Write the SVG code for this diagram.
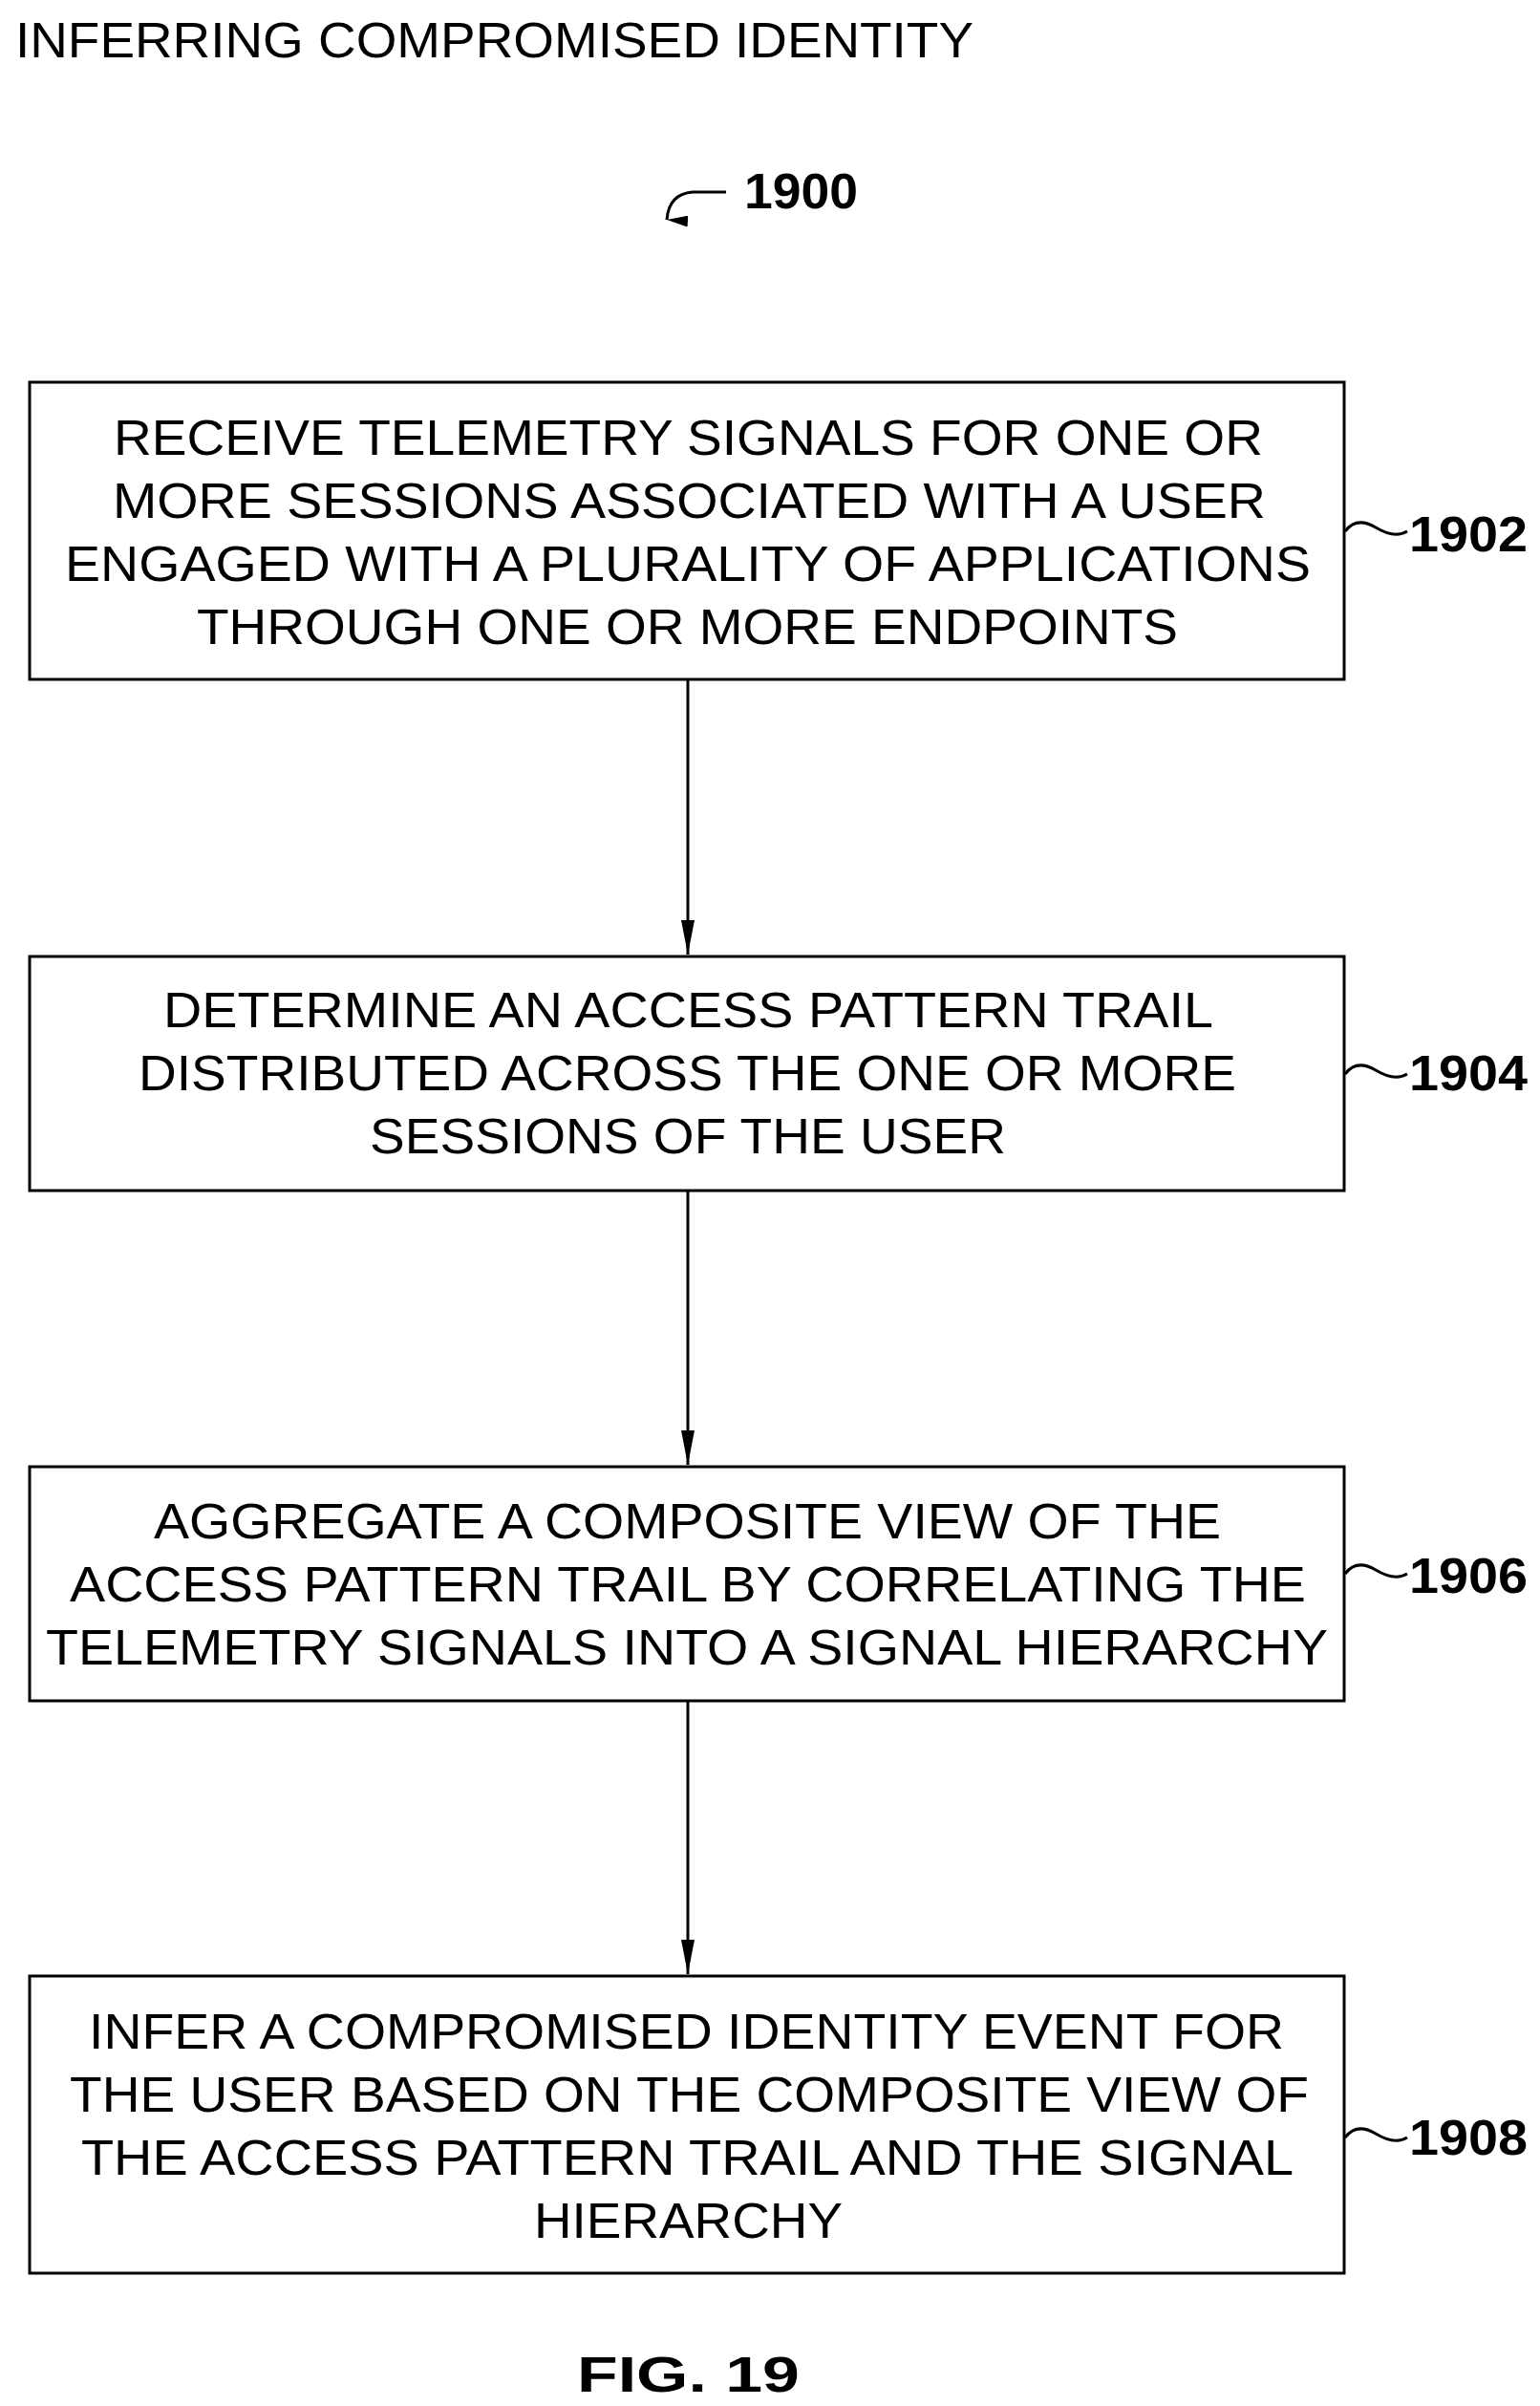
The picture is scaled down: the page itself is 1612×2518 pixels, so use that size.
<svg xmlns="http://www.w3.org/2000/svg" width="1612" height="2518" viewBox="0 0 1612 2518">
<defs>
<style>
.t{font-family:"Liberation Sans",Arial,sans-serif;font-size:52px;fill:#000}
.c{text-anchor:middle}
.b{font-weight:bold}
.box{fill:#fff;stroke:#000;stroke-width:3}
.ln{fill:none;stroke:#000;stroke-width:3}
</style>
<marker id="ah" markerWidth="12" markerHeight="22" refX="6" refY="22" orient="auto-start-reverse" markerUnits="userSpaceOnUse" viewBox="0 0 12 22"><path d="M0,0 L12,0 L6,22 Z" fill="#000" transform="rotate(0)"/></marker>
<marker id="ad" markerWidth="14" markerHeight="36" refX="7" refY="36" orient="0" markerUnits="userSpaceOnUse" viewBox="0 0 14 36"><path d="M0,0 L14,0 L7,36 Z" fill="#000"/></marker>
</defs>
<rect width="1612" height="2518" fill="#fff"/>
<text class="t" x="16" y="60" textLength="1003" lengthAdjust="spacingAndGlyphs">INFERRING COMPROMISED IDENTITY</text>
<g id="ref1900">
<text class="t b" x="779" y="218" textLength="119" lengthAdjust="spacingAndGlyphs" font-size="49">1900</text>
<path class="ln" d="M760,201 L725,201 Q700,203 698,230" marker-end="url(#ah)"/>
</g>
<g id="connectors">
<line class="ln" x1="720" y1="711" x2="720" y2="999" marker-end="url(#ad)"/>
<line class="ln" x1="720" y1="1246" x2="720" y2="1533" marker-end="url(#ad)"/>
<line class="ln" x1="720" y1="1780" x2="720" y2="2066" marker-end="url(#ad)"/>
</g>
<g id="n1902">
<rect class="box" x="31" y="400" width="1376" height="311"/>
<text class="t" x="119" y="476" textLength="1203" lengthAdjust="spacingAndGlyphs">RECEIVE TELEMETRY SIGNALS FOR ONE OR</text>
<text class="t" x="118" y="542" textLength="1207" lengthAdjust="spacingAndGlyphs">MORE SESSIONS ASSOCIATED WITH A USER</text>
<text class="t" x="68" y="608" textLength="1304" lengthAdjust="spacingAndGlyphs">ENGAGED WITH A PLURALITY OF APPLICATIONS</text>
<text class="t" x="206" y="674" textLength="1027" lengthAdjust="spacingAndGlyphs">THROUGH ONE OR MORE ENDPOINTS</text>
<path class="ln" d="M1408,556 Q1420,540 1440,552 T1473,556"/>
<text class="t b" x="1475" y="577" font-size="49" textLength="124" lengthAdjust="spacingAndGlyphs">1902</text>
</g>
<g id="n1904">
<rect class="box" x="31" y="1001" width="1376" height="245"/>
<text class="t" x="171" y="1075" textLength="1099" lengthAdjust="spacingAndGlyphs">DETERMINE AN ACCESS PATTERN TRAIL</text>
<text class="t" x="145" y="1141" textLength="1149" lengthAdjust="spacingAndGlyphs">DISTRIBUTED ACROSS THE ONE OR MORE</text>
<text class="t" x="387" y="1207" textLength="666" lengthAdjust="spacingAndGlyphs">SESSIONS OF THE USER</text>
<path class="ln" d="M1408,1124 Q1420,1108 1440,1120 T1473,1124"/>
<text class="t b" x="1475" y="1141" font-size="49" textLength="124" lengthAdjust="spacingAndGlyphs">1904</text>
</g>
<g id="n1906">
<rect class="box" x="31" y="1535" width="1376" height="245"/>
<text class="t" x="161" y="1610" textLength="1117" lengthAdjust="spacingAndGlyphs">AGGREGATE A COMPOSITE VIEW OF THE</text>
<text class="t" x="73" y="1676" textLength="1294" lengthAdjust="spacingAndGlyphs">ACCESS PATTERN TRAIL BY CORRELATING THE</text>
<text class="t" x="48" y="1742" textLength="1342" lengthAdjust="spacingAndGlyphs">TELEMETRY SIGNALS INTO A SIGNAL HIERARCHY</text>
<path class="ln" d="M1408,1647 Q1420,1631 1440,1643 T1473,1647"/>
<text class="t b" x="1475" y="1667" font-size="49" textLength="124" lengthAdjust="spacingAndGlyphs">1906</text>
</g>
<g id="n1908">
<rect class="box" x="31" y="2068" width="1376" height="311"/>
<text class="t" x="93" y="2144" textLength="1251" lengthAdjust="spacingAndGlyphs">INFER A COMPROMISED IDENTITY EVENT FOR</text>
<text class="t" x="73" y="2210" textLength="1297" lengthAdjust="spacingAndGlyphs">THE USER BASED ON THE COMPOSITE VIEW OF</text>
<text class="t" x="85" y="2276" textLength="1269" lengthAdjust="spacingAndGlyphs">THE ACCESS PATTERN TRAIL AND THE SIGNAL</text>
<text class="t" x="559" y="2342" textLength="323" lengthAdjust="spacingAndGlyphs">HIERARCHY</text>
<path class="ln" d="M1408,2237 Q1420,2221 1440,2233 T1473,2237"/>
<text class="t b" x="1475" y="2255" font-size="49" textLength="124" lengthAdjust="spacingAndGlyphs">1908</text>
</g>
<text class="t b" x="604" y="2503" font-size="76" textLength="233" lengthAdjust="spacingAndGlyphs">FIG. 19</text>
</svg>
